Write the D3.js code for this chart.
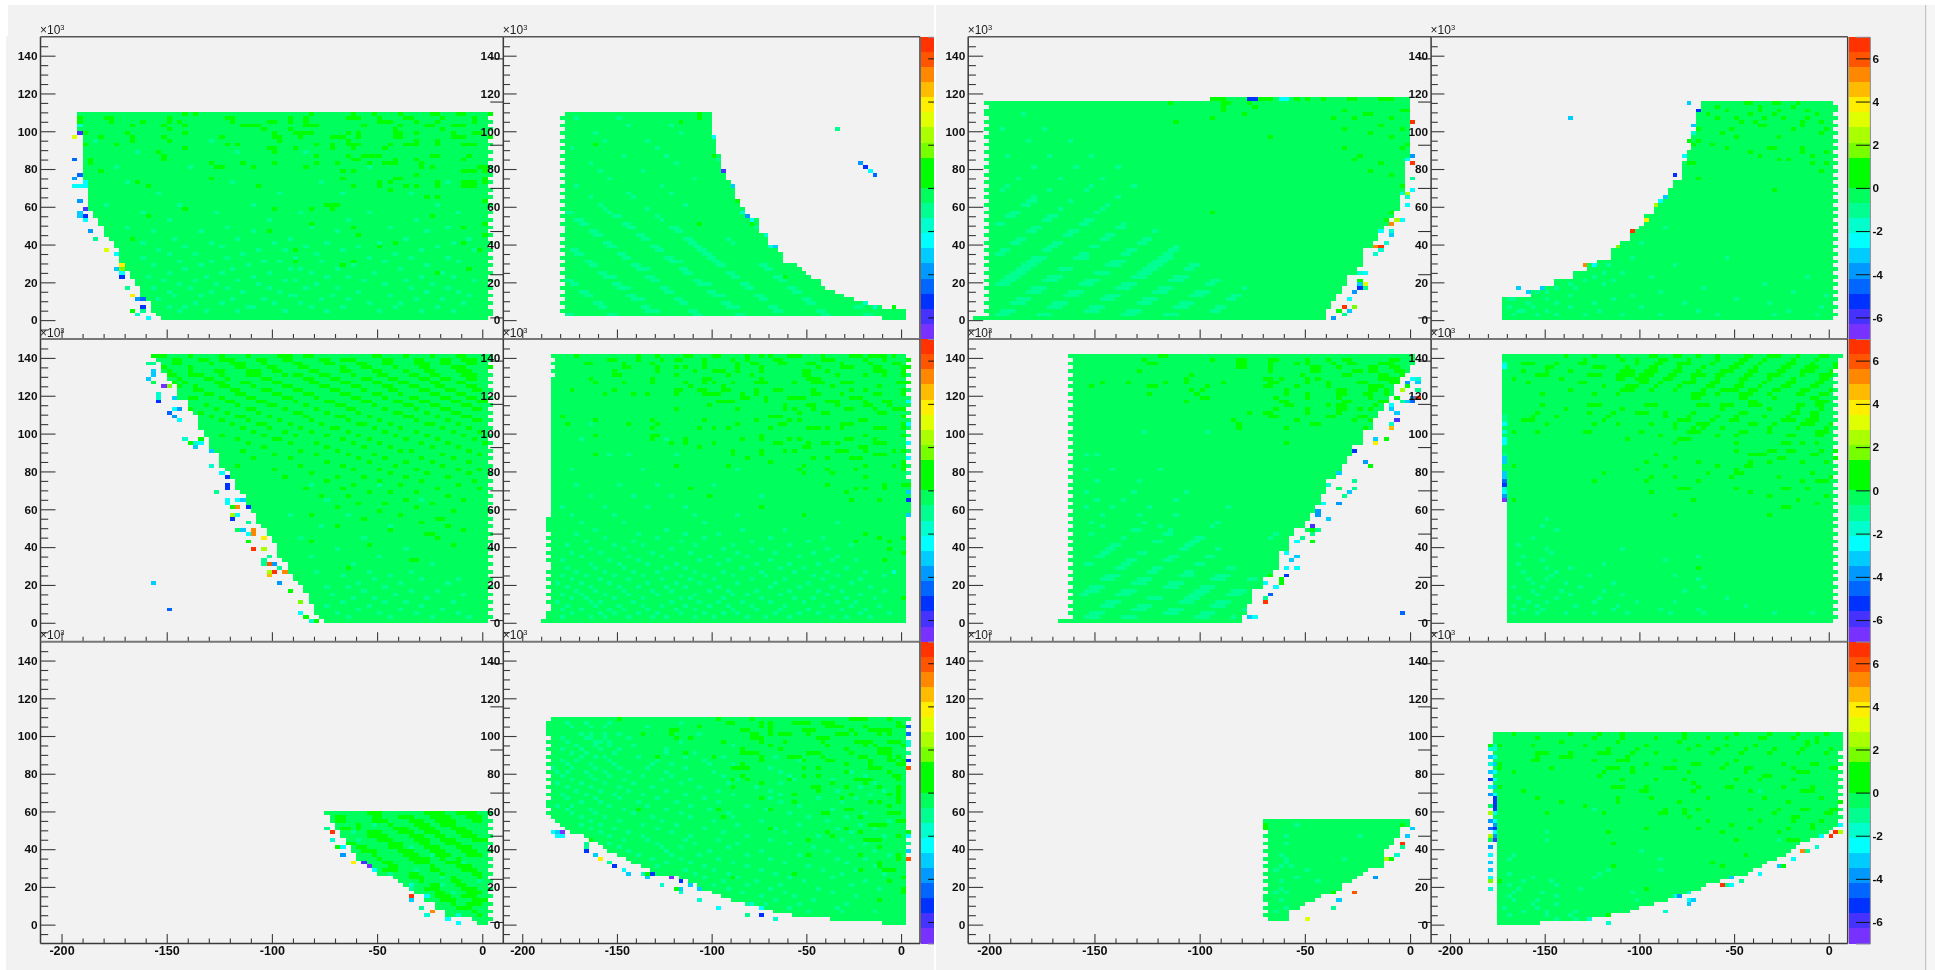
<!DOCTYPE html>
<html><head><meta charset="utf-8">
<style>html,body{margin:0;padding:0;background:#fff;overflow:hidden}svg{display:block}</style>
<script src="https://cdn.jsdelivr.net/npm/d3@7"></script></head><body><div id="c"></div>
<script>
const levelEdges=[-7,-6.3,-5.6,-4.9,-4.2,-3.5,-2.8,-2.1,-1.4,-0.7,0,0.7,1.4,2.1,2.8,3.5,4.2,4.9,5.6,6.3,7];
const palette=["#7733ff","#4433ff","#0033ff","#0066ff","#0099ff","#00ccff","#00ffff","#00ffcc","#00ff90","#00ff5c","#00ff00","#00ff00","#77ff00","#aaff00","#e0ff00","#ffee00","#ffbb00","#ff8800","#ff5500","#ff3300"];
const xMajor=[-200,-150,-100,-50,0];
const xMinor=[-190,-180,-170,-160,-140,-130,-120,-110,-90,-80,-70,-60,-40,-30,-20,-10];
const yMajor=[0,20,40,60,80,100,120,140];
const yMinor=[-5,5,10,15,25,30,35,45,50,55,65,70,75,85,90,95,105,110,115,125,130,135,145];
const zTicks=[-6,-4,-2,0,2,4,6];

/* row 1, column 1 */
const p11Left=[[1,-61],[1,-62],[3,-63],[1,-64],[3,-65],[2,-66],[2,-67],[2,-68],[4,-69],[2,-70],[1,-71],[3,-72],[2,-73],[2,-74],[6,-75],[15,-76],[5,-77]];
const p11Right=[[55,1]];
const p11Teeth=[1,2,4,6,8,10,12,14,16,18,20,22,24,26,28,30,32,34,36,38,40,42,44,46,48,50,52,54];
const p11Dark=[[54,-57,-55,-33,-25,-21,-16,-10,-9,-5,-4,1],[53,-77,-72,-71,-60,-49,-48,-37,-34,-26,-25,-24,-20,-15,-14,-8,-2],[52,-77,-71,-65,-60,-58,-48,-41,-40,-37,-34,-20,-19,-18,-13,-9,-2],[51,-67,-61,-57,-46,-45,-44,-43,-34,-33,-32,-23,-16,-11,-10,-6,-5,-4],[50,-60,-42,-37,-17,-8],[49,-76,-68,-57,-40,-36,-35,-34,-33,-26,-24,-17,-16,-13,-6,-2,-1],[48,-73,-67,-61,-50,-40,-39,-35,-29,-28,-27,-24,-17,-16,-6,-5,-4,1],[47,-67,-60,-39,-26,-13,-9],[46,-76,-70,-49,-47,-32,-29,-26,-25,-24,-18,-15,-14,-13,-9,-4,-3,-2],[45,-57,-41,-40,-36,-29,-25,-19],[44,-62,-40],[43,-61,-32,-26,-23,-22,-21,-20,-10,-9,-3],[42,-75,-61,-25,-24,-17,-13,-4],[41,-75,-52,-46,-40,-32,-28,-22,-19,-18,-17,-12],[40,-51,-50,-44,-34,-12,-10,-1,0],[39,-73,-27,-25,-4,-3,-2,0],[38,-13],[37,-52,-27,-17,-16,0],[36,-66,-20,-18,-9,-4,-3,-2,0],[35,-64,-43,-25,-20,-15,-13,-9,-4,-3,-2],[34,-18],[32,-11,-9],[31,0],[30,-30,-29,-28],[29,-57,-40,-33,-29],[28,-75],[27,-64,-10],[25,-33,0],[24,-25,-4],[23,-41],[22,-24,0],[21,-67],[20,-17,-4],[19,-20],[18,-36,-1],[15,-36,-25],[14,-27],[13,-3],[12,-9]];
const p11Light=[[2,-58,-53,-47,-38,-30,-20,-12,-6],[3,-60,-57,-45,-44,-33,-27,-17,-9],[4,-55,-50,-40,-35,-22,-16,-4],[5,-62,-48,-42,-31,-26,-13,-8],[6,-59,-54,-37,-36,-29,-18,-3],[7,-60,-52,-46,-39,-24,-11,-5],[8,-63,-56,-49,-41,-34,-28,-14,-7],[9,-58,-51,-43,-32,-19,-10],[10,-61,-55,-47,-38,-36,-23,-15,-2],[11,-64,-53,-44,-30,-26,-12,-6],[12,-60,-50,-41,-33,-21,-8],[13,-57,-48,-37,-35,-28,-16,-3],[14,-63,-54,-45,-25,-11],[15,-58,-52,-42,-39,-31,-19,-5],[16,-65,-49,-36,-22,-14,-7],[17,-60,-55,-46,-32,-17],[18,-62,-43,-38,-27,-12,-2],[19,-57,-50,-34,-24,-9],[20,-65,-52,-40,-30,-20,-6],[21,-59,-47,-37,-15,-3],[23,-63,-54,-44,-28,-11],[24,-68,-49,-33,-18,-7],[26,-60,-41,-26,-13],[28,-65,-51,-35,-22,-5],[30,-72,-58,-44,-9],[33,-62,-39,-27,-14],[36,-68,-48,-31,-7],[40,-70,-56,-22],[44,-66,-34,-47],[47,-74,-52]];
const p11Odd=[[51,-77,-1.75],[49,-77,-6],[48,-78,2.8],[42,-78,-4.5],[38,-77,-4.5],[37,-78,-4],[35,-78,-2.4],[35,-77,-2.4],[35,-76,-2.4],[36,-76,-2.2],[31,-77,-4],[29,-76,-6],[28,-77,-3.5],[27,-77,-3.5],[27,-76,-5],[26,-76,-2.4],[23,-75,-4],[21,-74,-1],[18,-72,2.8],[17,-70,-2.4],[14,-69,4],[13,-70,-3.5],[13,-69,2],[12,-69,-2.8],[11,-69,-5.5],[8,-68,-1],[6,-67,4],[5,-66,-4],[5,-65,-4.5],[3,-65,-5],[2,-67,0.7],[2,-65,-1.2],[1,-66,-1.6],[0,-64,-2.4]];

/* row 1, column 2 */
const p12Left=[[1,-4],[54,-71]];
const p12Right=[[3,1],[1,-4],[1,-8],[1,-10],[1,-12],[1,-14],[1,-16],[2,-17],[1,-19],[1,-20],[1,-21],[1,-22],[3,-25],[2,-26],[3,-28],[4,-30],[1,-32],[2,-33],[2,-34],[3,-35],[2,-36],[3,-37],[4,-38],[5,-39],[6,-40]];
const p12Teeth=[53,51,49,47,45,43,41,39,37,35,33,31,29,27,25,22,20,18,16,14,12,10,8,6,4,2];
const p12Dark=[[54,-43],[53,-43],[52,-47],[46,-65],[43,-40],[25,-43],[11,-25]];
const p12Light=[[1,[-71,-70],[-62,-61],[-44,-43],[-35,-34],[-17,-16],[-8,-7]],[2,[-54,-52],[-45,-44],[-27,-26],[-18,-17]],[3,[-64,-63],[-55,-54],[-37,-35],[-28,-27],[-10,-9]],[4,[-65,-64],[-47,-46],[-38,-37],[-20,-19]],[5,[-57,-55],[-48,-47],[-30,-29],[-21,-20]],[6,[-67,-66],[-58,-57],[-40,-38],[-31,-30]],[7,[-68,-67],[-50,-49],[-41,-40],[-23,-22]],[8,[-60,-58],[-51,-50],[-33,-32],[-24,-23]],[9,[-70,-69],[-61,-60],[-43,-41],[-34,-33]],[10,[-71,-70],[-53,-52],[-44,-43],[-26,-25]],[11,[-63,-61],[-54,-53],[-36,-35],[-27,-26]],[12,[-64,-63],[-46,-45],[-37,-36]],[13,[-56,-54],[-47,-46],[-29,-28]],[14,[-66,-65],[-57,-56],[-39,-38],[-30,-29]],[15,[-67,-66],[-49,-47],[-40,-39]],[16,[-59,-58],[-50,-49],[-41,-40]],[17,[-69,-68],[-60,-59],[-42,-41]],[18,[-70,-69],[-52,-51],[-43,-42]],[19,[-62,-61],[-53,-52],[-44,-43]],[20,[-63,-62],[-45,-44],-36],[21,[-55,-54],[-46,-45],-37],[22,[-65,-64],[-56,-55]],[23,[-66,-65],[-48,-47]],[24,[-58,-57],[-49,-48]],[25,[-68,-67],[-59,-58]],[26,[-69,-68],-51],[27,[-61,-60],-52],[28,[-71,-70],-62],[29,-63,-54],[30,-64,-46],[32,-66,-57],[33,-58,-49],[35,-69,-51],[37,-62,-44],[39,-64,-55],[41,-66,-48],[43,-59,-50],[45,-70,-52],[47,-63,-54],[49,-65,-47],[51,-58,-49],[53,-69,-60]];
const p12Odd=[[50,-14,-1],[41,-9,-4],[40,-8,-5],[39,-7,-2.4],[38,-6,-4.5],[48,-40,-2.2],[42,-39,-1.4],[39,-38,-6],[35,-36,-3],[31,-35,0.7],[28,-34,-1.5],[27,-33,-4],[26,-32,-2.4],[25,-32,0.7],[24,-31,-1.4],[22,-29,-1.5],[19,-27,-3],[19,-28,-1.5],[4,-8,-1.6],[3,-6,-1.6],[3,-2,0.5]];

/* row 1, column 3 */
const p13Left=[[1,-83],[57,-80],[1,-38]];
const p13Right=[[3,-16],[2,-15],[2,-14],[2,-13],[3,-12],[2,-10],[5,-9],[2,-7],[2,-6],[2,-5],[2,-4],[2,-3],[4,-2],[10,-1],[16,0]];
const p13Teeth=[2,4,6,8,10,12,14,16,18,20,22,24,26,28,30,32,34,36,38,40,42,44,46,48,50,52,54,55,57];
const p13Dark=[[58,-38,-37,-36,-29,-28,-27,-22,-20,-17,-12,-11,-6,-5,-4],[57,-46,-36,-35,-31],[56,-36,-30],[55,-36,-13,-2,-1],[54,-32,-9,-8],[53,-38,-15,-11,-4],[52,-45],[51,-6],[50,-13,-2],[49,-8],[48,-27,-4],[46,-1],[45,-13,-2],[43,-10],[42,-11],[41,-6],[39,-8],[38,-4],[35,-2],[28,-38]];
const p13Light=[[1,[-79,-77],[-71,-69],[-55,-53],[-47,-45]],[2,[-78,-76],[-62,-60],[-54,-52],[-38,-37]],[3,[-69,-67],[-61,-59],[-45,-43],[-37,-36]],[4,[-76,-74],[-68,-66],[-52,-50],[-44,-42]],[5,[-75,-73],[-59,-57],[-51,-49],[-35,-34]],[6,[-66,-64],[-58,-56],[-42,-40],[-34,-33]],[7,[-73,-71],[-65,-63],[-49,-47],[-41,-39]],[8,[-72,-70],[-56,-54],[-48,-46],-32],[9,[-79,-77],[-63,-61],[-55,-53],[-39,-38]],[10,[-78,-76],[-70,-68],[-62,-60],[-46,-44],[-38,-37]],[11,[-77,-75],[-69,-67],[-53,-51],[-45,-43]],[12,[-76,-74],[-60,-58],[-52,-50]],[13,[-75,-73],[-67,-65],[-51,-49],[-43,-42]],[14,[-74,-72],[-58,-56],[-50,-48],[-42,-41]],[15,[-73,-71],[-57,-55],[-49,-47]],[16,[-72,-70],[-64,-62],[-48,-46]],[17,[-79,-78],[-63,-62],[-55,-54],[-47,-46]],[18,[-78,-77],[-70,-69],[-54,-53],[-46,-45]],[19,[-69,-68],[-61,-60],-45],[20,[-76,-75],[-68,-67],[-52,-51]],[21,[-75,-74],[-59,-58],[-51,-50]],[22,[-66,-65],[-58,-57]],[23,[-73,-72],[-65,-64],-49],[24,[-72,-71],[-56,-55]],[25,[-79,-78],[-63,-62],-55],[26,[-70,-69],[-62,-61]],[27,[-77,-76],[-69,-68]],[28,[-76,-75],-60],[29,-67,-59],[30,[-74,-73],-58],[31,[-73,-72],-65],[32,-72,-56],[34,-78,-69,-62],[35,-77,-61,-53],[37,-75,-67,-59],[40,-72,-64,-56],[43,-77,-69,-61],[47,-73,-65],[50,-78,-70],[54,-74]];
const p13Odd=[[52,0,6.5],[43,0,-4],[42,-1,-2.4],[41,0,6.5],[37,0,-1.2],[34,0,-2.4],[33,-1,2.7],[33,-2,-1.6],[32,-1,-1.6],[30,-1,-2.2],[28,-4,0.7],[26,-5,0.7],[26,-3,2.5],[26,-2,-2.4],[25,-4,5],[23,-6,-2.4],[23,-4,-1.7],[22,-4,-3],[20,-5,-1.5],[19,-7,5],[19,-6,6.5],[18,-6,-2],[17,-7,-1.7],[12,-10,-1.5],[12,-9,-2.5],[10,-10,0.7],[9,-10,-3.4],[8,-10,-5],[9,-9,3],[8,-9,-1],[7,-11,-4],[5,-12,-2.4],[3,-13,6.5],[3,-11,2],[2,-14,0.7],[2,-12,-3.5],[1,-13,-1.4],[0,-15,-4],[58,-31,-5],[58,-30,-5],[58,-25,-2.4],[58,-24,-2.4]];

/* row 1, column 4 */
const p14Left=[[6,-69],[2,-63],[1,-60],[2,-58],[2,-54],[2,-51],[1,-49],[3,-46],[2,-44],[3,-42],[1,-40],[3,-39],[3,-37],[1,-36],[3,-34],[2,-33],[5,-31],[3,-30],[5,-29],[5,-28],[3,-27]];
const p14Right=[[58,1]];
const p14Teeth=[1,3,5,7,9,11,13,15,17,19,21,23,25,27,29,31,33,35,37,39,41,43,45,47,49,51,53,55,56];
const p14Dark=[[57,-18,-17,-12,-11,-7],[56,-24,-15,-8],[55,-22,-15,-11,-5],[54,-26,-17,-12,-3],[53,-24,-20,-14,-10,-5],[52,-19,-16,-6,-2],[51,-15,-14,-6],[50,-28,-21,-8,-1],[49,-23,-2],[48,-20,-11],[47,-28],[46,-29,-25],[45,-22,-13,-12,-6],[44,-17,-6,-1],[43,-15,-4],[42,-11,-9],[41,-30,-29,-4,-1],[39,-2],[37,-28],[34,-12]];
const p14Light=[[1,-67,-62,-58,-52,-44,-36,-24,-12,-3],[2,-66,-65,-60,-49,-28,-9],[3,-68,-63,-55,-40,-2],[4,-64,-58,-50,-31,-13],[5,-68,-67,-60,-46,-20],[6,-65,-55,-42,-1],[7,-62,-60,-36,-8],[8,-58,-54,-27],[9,-55,-48,-14],[10,-52,-46],[11,-50,-38,-5],[12,-48,-44],[14,-47,-33],[16,-42,-22],[20,-40],[24,-35]];
const p14Odd=[[57,-30,-3.5],[55,-28,-5],[51,-29,-3],[49,-29,-1.6],[47,-30,0.7],[43,-31,-2.5],[38,-33,-5.5],[30,-37,2.2],[32,-35,-3],[31,-36,-2.4],[26,-39,4],[23,-42,6.5],[19,-45,2],[14,-50,-2.4],[14,-52,5],[53,-55,-3.5],[8,-66,-3.2],[7,-64,-3],[8,-61,-3.5]];

/* row 2, column 1 */
const p21Left=[[1,-30],[1,-31],[3,-32],[3,-33],[2,-34],[1,-35],[2,-36],[3,-37],[1,-38],[4,-39],[2,-40],[2,-41],[1,-42],[3,-43],[2,-44],[3,-45],[1,-46],[3,-47],[2,-48],[1,-49],[4,-50],[1,-51],[3,-52],[2,-53],[4,-54],[1,-55],[3,-56],[4,-58],[1,-59],[2,-60],[3,-61],[1,-62],[1,-63]];
const p21Right=[[71,1]];
const p21Teeth=[1,3,5,7,9,11,13,15,17,19,21,23,25,27,29,31,33,35,37,39,41,43,45,47,49,51,53,55,57,59,61,63,65,67,69,70];
const p21Dark=[[70,-63,-62,-61,-56,-50,-45,-39,-38,-37,-34,-33,-21,-20,-15,-10,-5,-4],[69,-59,-58,-54,-53,-50,-49,-48,-43,-42,-38,-37,-31,-30,-27,-26,-25,-19,-18,-13,-12,-8,-7,-4,-3,-2],[68,-59,-58,-52,-48,-47,-46,-42,-36,-35,-30,-29,-24,-23,-19,-18,-13,-12,-11,-8,-7,-3,-2],[67,-61,-56,-47,-46,-41,-40,-35,-34,-27,-23,-22,-17,-12,-11,-6,-5,-4,1],[66,-60,-56,-51,-50,-45,-44,-43,-40,-39,-33,-32,-27,-26,-21,-20,-15,-11,-10,-5,-4,-3],[65,-60,-59,-56,-55,-54,-50,-45,-44,-43,-38,-36,-35,-31,-30,-25,-20,-19,-14,-13,-10,-9,-4,-3,-2],[64,-58,-53,-52,-49,-42,-41,-34,-33,-29,-28,-23,-22,-18,-17,-12,-11,-8,-7,-3,-2],[63,-59,-57,-51,-50,-46,-45,-40,-39,-33,-32,-27,-26,-21,-20,-16,-15,-10,-9,-5,-4],[62,-58,-55,-50,-49,-44,-38,-37,-31,-30,-25,-24,-19,-18,-14,-13,-9,-8,-3,-2],[61,-55,-54,-48,-47,-42,-41,-36,-35,-29,-28,-23,-18,-17,-12,-11,-7,-6,-2,-1],[60,-53,-52,-47,-46,-40,-39,-34,-33,-27,-26,-21,-20,-16,-10,-9,-5,-4,1],[59,-56,-55,-50,-45,-44,-38,-37,-32,-25,-24,-19,-14,-13,-8,-7,-3,-2],[58,-49,-48,-43,-42,-36,-30,-29,-23,-22,-17,-16,-12,-11,-6,-5,-1,0],[57,-53,-47,-41,-40,-34,-28,-27,-21,-15,-14,-10,-9,-4,-3],[56,-56,-51,-45,-44,-38,-32,-26,-25,-19,-13,-8,-7,-2,-1,1],[55,-54,-49,-43,-36,-35,-30,-24,-17,-16,-11,-6,-5],[54,-52,-47,-46,-41,-34,-28,-27,-22,-15,-14,-9,-4,-3],[53,-50,-45,-39,-33,-26,-20,-13,-7,-2,-1],[52,-48,-43,-42,-37,-31,-24,-23,-18,-11,-10,-5,1],[51,-46,-41,-35,-29,-28,-21,-16,-8,-3],[50,-44,-38,-33,-26,-19,-13,-6,-1],[49,-50,-42,-36,-30,-24,-17,-11,-4],[48,-47,-40,-39,-27,-22,-15,-9,-2],[47,-45,-37,-32,-25,-20,-12,-7,0],[46,-42,-30,-23,-18,-10,-5],[45,-46,-35,-28,-16,-14,-3],[44,-40,-32,-26,-21,-8,-1],[43,-44,-37,-24,-19,-12,-6],[42,-30,-22,-15,-10,-3],[41,-47,-35,-27,-17,-8],[40,-40,-25,-20,-13,-5,-1],[39,-33,-18,-11,-3],[38,-38,-28,-23,-15,-7],[37,-30,-20,-12,-2],[36,-25,-16,-5],[35,-34,-27,-9,-1],[34,-22,-18,-13],[33,-31,-26,-7],[32,-15,-4],[31,-24,-19,-10],[30,-28,-13],[29,-20,-6],[28,-33,-16],[27,-23,-9,-8],[26,-12],[25,-28,-7],[24,-18,-4],[23,-11,-10],[22,-9],[21,-33],[20,-22,-6],[16,-14,-13],[14,-26]];
const p21Light=[[1,-26,-18,-10,-3],[2,-28,-20,-13,-5],[3,-24,-16,-8],[4,-30,-22,-12],[5,-27,-19,-15,-6],[6,-25,-21,-11],[7,-29,-17,-4],[8,-23,-14,-9],[9,-30,-26,-19],[10,-24,-16,-7],[11,-21,-12,-5],[12,-27,-18],[13,-32,-22,-14],[15,-25,-10],[17,-33,-20],[19,-28,-15],[22,-35,-23],[25,-31,-18],[28,-37,-26],[32,-30,-12],[36,-33,-20]];
const p21Odd=[[68,-64,-1],[68,-63,-1],[66,-63,-3.5],[65,-63,-3.5],[64,-64,-3],[63,-63,-0.3],[62,-61,-6.4],[62,-60,2],[60,-62,-1.6],[59,-62,-1.6],[58,-62,-5],[59,-59,-3],[56,-59,-2.4],[56,-58,-4],[55,-60,-4.5],[54,-59,-4],[53,-58,-2.4],[48,-57,-1.6],[47,-56,0.7],[47,-55,-1.5],[47,-54,-2.4],[48,-54,0.7],[46,-55,-3.5],[45,-52,-3],[41,-52,-1.6],[39,-50,-2.4],[38,-49,-5],[36,-49,-5.5],[35,-49,-5.5],[34,-51,-1.2],[32,-49,-2.4],[31,-49,-2.4],[32,-47,-2.5],[32,-46,-3.5],[30,-48,0.7],[30,-47,4.9],[30,-45,-5],[28,-48,2.3],[28,-47,-2.4],[27,-48,-5],[26,-45,-1.2],[24,-47,-0.3],[24,-46,-3.5],[24,-44,5],[23,-44,5],[23,-45,-2.4],[22,-42,3.5],[21,-45,0.7],[19,-44,6.5],[19,-42,2.5],[17,-41,-1],[16,-42,-1],[15,-42,-1],[15,-41,6],[15,-40,-4],[14,-39,-1],[13,-41,2.2],[13,-40,6.5],[13,-38,5],[12,-41,4.8],[10,-39,-4],[10,-63,-3],[8,-37,0.7],[5,-35,2],[2,-35,-2.4],[1,-34,0.7],[0,-33,-1.6],[0,-32,0.7],[3,-60,-4.7]];

/* row 2, column 2 */
const p22Left=[[1,-76],[64,-74],[1,-73],[1,-74],[1,-73],[1,-74],[1,-73],[1,-74]];
const p22Right=[[71,1]];
const p22LeftTeeth=[1,2,5,7,9,11,13,16,18,20,22,24,25,26,27];
const p22Teeth=[69,67,65,63,61,59,57,55,53,51,49,47,45,43,41,39,37,35,33,31,29];
const p22Dark=[[70,-69,-56,-52,-46,-45,-40,-39,-33,-30,-28,-24,-23,-22,-17,-11,-10,-9,-7,-6,-5,-4,-2],[69,-62,-61,-56,-51,-48,-47,-42,-36,-33,-27,-26,-17,-16,-15,-8,-4,1],[68,-67,-66,-59,-53,-42,-35,-32,-31,-26,-25,-20,-19,-13,-7,-2,-1],[67,-59,-58,-52,-48,-46,-42,-35,-30,-18,-13,-12,-11,-6,-5,0,1],[66,-61,-52,-44,-40,-39,-38,-35,-30,-21,-20,-16,-6,-5,-4,0],[65,-61,-60,-48,-37,-32,-21,-20,-14,-8,-4,0],[64,-66,-53,-42,-41,-30,-20,-19,-18],[63,-65,-59,-53,-46,-42,-40,-36,-31,-30,-29,-23,-19,-18,-17,-13,-12,-11,-1,0,1],[62,-45,-38,-15,-5,1],[61,-70,-61,-48,-47,-43,-42,-38,-37,-31,-27,-26,-19,-11,-8,0],[60,-63,-57,-54,-48,-42,-41,-40,-39,-34,-31,-19,-18,-13,-6,-5,0],[59,-34,-33,-29,-24,-23,-22,-21,-11,-10,-9],[58,-39,-38,-37,-36,-29,-16,-15,-14,-8,-4,-3],[57,-41,-25,-20,-19,-14,-8,-7,-3],[56,-48,-35,-25,-23,-19,-12,-11,-6,-2,-1,0],[55,-22,-17,-16,-5,-4],[54,-72,-28,-27,-26,0],[53,-65,-53,-42,-31,-24,-22,-9,-8],[52,-71,-58,-52,-35,-26,-25,-13,-12,-11,0],[51,-53,-43,-40,-37,-28,-20,-19,-18,-16,-13,-6,-5,-4,0],[49,-65,-53,-52,-30,-8,0],[48,-53,-46,-34,-30,-24,-22,-12,-11,-6],[47,-49,-46,-40,-27,-26,-20,-17,-16,-14,-6,-5,-4],[46,-43,-21,-20,-9,-8],[45,-36,-30,-25,-23,-14,-13,-12,-8,-2,0],[44,-65,-36,-30,-6,-5,-4],[43,-33,-19,-16,-11,-10,-9],[42,-28,0],[41,-48,-37,-21,-8,-2,0],[40,-22,-16,-10,0],[39,-21,-15],[38,-8],[36,-16,-4,0],[35,-45,-10,-8,-4],[34,-12],[33,-41],[32,-11,-5],[30,-30],[28,-21],[23,-8],[22,-5,0],[21,-10,-3],[19,-3],[18,0],[16,-4],[6,0]];
const p22Light=[[1,-72,-66,-63,-58,-53,-50,-44,-40,-33,-29,-24,-15,-12,-7],[2,-70,-64,-61,-56,-52,-47,-42,-38,-35,-27,-22,-18,-9,-3],[3,-72,-68,-62,-59,-54,-48,-44,-36,-31,-26,-20,-13,-8],[4,-71,-65,-60,-55,-51,-46,-41,-37,-32,-25,-17,-11,-5],[5,-73,-66,-64,-57,-49,-43,-39,-34,-28,-21,-14,-10],[6,-70,-67,-61,-55,-47,-45,-38,-30,-23,-19,-12,-6],[7,-72,-68,-63,-58,-52,-44,-36,-33,-26,-16,-9],[8,-69,-65,-59,-53,-49,-41,-37,-31,-24,-18,-13,-4],[9,-71,-66,-60,-56,-50,-46,-39,-28,-22,-15,-7],[10,-73,-68,-62,-54,-48,-43,-35,-27,-20,-11],[11,-70,-64,-58,-51,-45,-40,-32,-25,-17,-9],[12,-72,-67,-61,-55,-47,-42,-36,-29,-19,-14,-4],[13,-69,-63,-57,-52,-44,-38,-30,-23,-16,-8],[14,-71,-65,-59,-50,-46,-34,-26,-21,-12],[15,-66,-60,-54,-48,-39,-31,-24,-18],[16,-72,-62,-56,-43,-37,-28,-15,-10],[17,-68,-58,-51,-41,-33,-22,-14],[18,-70,-64,-53,-45,-35,-27,-19],[19,-66,-59,-49,-38,-30,-16],[20,-71,-61,-55,-44,-36,-24,-11],[21,-67,-57,-47,-32,-20],[22,-63,-52,-42,-28,-17],[23,-69,-56,-46,-39,-8],[24,-65,-50,-34,-25],[26,-68,-59,-42,-14],[28,-70,-61,-44,-35],[30,-72,-63,-54,-46],[33,-66,-57,-49,-30],[36,-69,-60,-52,-40],[40,-70,-55,-35],[44,-62,-58,-48],[48,-68,-50],[52,-66]];
const p22Odd=[[58,1,-2.4],[52,1,-2.4],[47,1,-2.4],[43,1,-2.4],[39,1,-1.4],[36,1,0.7],[34,1,-3.4],[32,1,-5],[30,1,-0.3],[28,1,-3],[13,-2,-1.6]];

/* row 2, column 3 */
const p23Left=[[1,-67],[70,-64]];
const p23Right=[[2,-32],[3,-31],[4,-30],[3,-28],[2,-26],[5,-25],[4,-23],[2,-22],[2,-20],[2,-19],[2,-18],[3,-17],[4,-16],[2,-14],[2,-13],[2,-12],[3,-11],[4,-9],[3,-7],[2,-6],[2,-5],[2,-4],[3,-3],[2,-2],[1,-1],[2,0],[3,1]];
const p23LeftTeeth=[2,4,6,8,10,12,14,16,18,20,22,24,26,28,30,32,34,36,38,40,42,44,46,48,50,52,54,56,58,60,62,64,66,68,70];
const p23Dark=[[70,-48,-47],[69,-51,-38,-33,-32,-27,-26,-20,-16,-13,-12,-4,-3],[68,-50,-49,-33,-32,-27,-22,-20,-15,-12,-11,-6,-5,-4],[67,-33,-32,-27,-19,-18,-14,-8,-7,-4,-3],[66,-52,-27,-19,-18,-11,-10,-8,-7,-3,-2],[65,-42,-21,-13,-12,-6,-5,-2,-1,0],[64,-43,-28,-27,-25,-20,-18,-6,-5,-4,-3],[63,-59,-54,-47,-43,-36,-27,-26,-20,-16,-10,-9,-4,-3],[62,-61,-50,-49,-39,-28,-27,-22,-16,-8,-7,-6],[61,-42,-40,-24,-14,-13,-8,-7,-5],[60,-50,-41,-24,-20,-14,-13,-9,-8,-5],[59,-40,-39,-26,-20,-14,-8],[58,-43,-25,-24,-13,-12,-6,-5],[57,-24,-23,-16,-14,-13,-7,-5],[56,-26,-20,-14,-13,-10,-8],[55,-31,-28,-27,-20,-14],[54,-27,-26,-16,-15,-10,-9],[53,-34,-22,-11,-8],[52,-33,-19,-18],[51,-33,-24,-9],[50,-9],[48,-9],[47,-24,-9]];
const p23Light=[[1,[-62,-60],[-55,-53],[-41,-39],-34],[2,[-61,-59],[-47,-45],[-40,-38]],[3,[-53,-51],[-46,-44],-32],[4,[-59,-57],[-52,-50],[-38,-36]],[5,[-58,-56],[-44,-42],[-37,-35]],[6,[-50,-48],[-43,-41]],[7,[-63,-62],[-56,-54],[-42,-40],[-35,-33]],[8,[-62,-60],[-55,-53],[-41,-39],[-34,-32]],[9,[-61,-59],[-47,-45],[-40,-38]],[10,[-53,-51],[-46,-44]],[11,[-59,-57],[-52,-50],[-38,-36],[-31,-30]],[12,[-58,-56],[-44,-42],[-37,-35]],[13,[-50,-49],[-43,-42]],[14,[-56,-55],[-49,-48],[-35,-34]],[15,[-62,-61],[-55,-54],[-41,-40]],[16,[-54,-53],[-47,-46]],[17,[-60,-59],[-46,-45],[-39,-38]],[18,[-59,-58],[-52,-51]],[19,[-58,-57],[-44,-43],-37],[20,[-57,-56],[-43,-42]],[21,[-49,-48],[-42,-41]],[22,-55,[-41,-40],-27],[23,-61,[-47,-46],-26],[24,[-53,-52],-46],[25,-59,-48,-38],[26,-51,-61,-37],[28,-59,-52,-45],[30,-62,-57,-50,-35],[32,-60,-55,-45],[34,-62,-53,-43],[37,-60,-52],[40,-62,-57,-48],[44,-62,-60],[50,-51,-39]];
const p23Odd=[[63,-1,-4],[64,0,-2.4],[64,1,-1.6],[63,1,-3.5],[62,-1,0.7],[61,-2,2.2],[61,1,-1],[59,-3,0.7],[59,1,6.5],[59,0,-4],[58,0,-4.7],[58,-1,-3.5],[58,-2,-1],[57,-4,-2.4],[56,-4,-3.5],[55,-3,-3],[53,-3,-6],[52,-4,-1.6],[51,-4,4.5],[48,-7,-3],[47,-7,3.9],[48,-5,0.7],[45,-11,-5],[42,-9,-4],[41,-8,0.7],[39,-14,-3],[37,-11,-1],[36,-16,-1.7],[35,-14,-0.4],[35,-11,-1],[34,-12,-3],[33,-13,-1],[31,-14,-4],[31,-17,-2.4],[29,-18,-4],[28,-18,-4],[27,-16,-3],[25,-19,-6],[24,-20,-0.4],[24,-19,0.7],[24,-18,-1],[23,-19,-1],[22,-21,-1],[21,-22,-2.4],[21,-19,0.7],[18,-24,-2.4],[17,-22,-3.5],[16,-23,-3.3],[14,-24,-2.4],[14,-22,-2.7],[12,-24,-5.5],[12,-27,0.7],[10,-28,-2.4],[9,-26,-2.2],[11,-25,0.7],[10,-25,0.7],[7,-27,-4.7],[6,-28,-1],[5,-28,6.5],[1,-31,-3],[1,-30,-2.7],[2,-2,-4.5]];

/* row 2, column 4 */
const p24Left=[[32,-68],[39,-69]];
const p24Right=[[70,1],[1,3]];
const p24Teeth=[1,3,5,7,9,11,13,15,17,19,21,23,25,27,29,31,33,35,37,39,41,43,45,47,49,51,53,55,57,59,61,63,65,67,68,69];
const p24Dark=[[70,-56,-50,-45,-38,-37,-33,-32,-28,-24,-18,-17,-13,-12,-11,-7,-2,-1],[69,-52,-44,-41,-36,-35,-30,-24,-19,-18,-14,-8,-3],[68,-65,-64,-63,-58,-53,-52,-41,-37,-36,-32,-31,-30,-25,-20,-19,-15,-9,-8,-4,1],[67,-60,-59,-50,-49,-48,-43,-38,-37,-32,-27,-21,-20,-16,-10,-9,-5,-4,-3,1],[66,-65,-60,-55,-44,-43,-42,-39,-38,-37,-33,-32,-28,-23,-22,-21,-17,-16,-11,-10,-6,-5,-4,0],[65,-62,-61,-60,-51,-50,-49,-45,-44,-43,-42,-40,-39,-38,-34,-33,-29,-28,-27,-24,-23,-18,-17,-13,-12,-11,-6,-2,-1,0],[64,-67,-57,-45,-44,-41,-40,-39,-35,-34,-29,-24,-19,-18,-13,-8,-2,-1],[63,-64,-53,-52,-40,-39,-36,-31,-30,-29,-25,-24,-19,-14,-9,-8,-3,-2],[62,-48,-43,-42,-41,-37,-32,-26,-25,-20,-19,-15,-10,-9,-4,-3,1],[61,-55,-44,-43,-42,-38,-33,-27,-23,-22,-21,-20,-17,-16,-12,-11,-6,-5,0],[60,-61,-50,-45,-29,-28,-27,-24,-19,-18,-17,-13,-7,-6,-2,-1],[59,-29,-28,-19,-18,-12,-4,-3],[58,-17,-16,-3,-2,-1],[57,-61,-51,-50,-49,-39,-38,-37,-28,-27,-26,-23,-22,-21,-17,-16,-15,-7,-6,-3,-2],[56,-56,-44,-23,-13,-7,-2],[55,-62,-51,-46,-41,-40,-39,-35,-29,-19,-18,-8,-7,-4,-3],[54,-63,-58,-47,-35,-30,-24,-20,-14,-9,-4,-3],[53,-65,-64,-63,-48,-32,-31,-30,-25,-21,-20,-10,-9,-8,-5,-4,-3],[52,-60,-50,-45,-38,-33,-28,-27,-26,-17,-16,-12,-6,-5,-4,0],[51,-33,-29,-27,-23,-13,-7,-1],[50,-67,-62,-52,-51,-40,-30,-29,-28,-19,-18,-13,-3,-2,-1],[49,-36,-24,-20,-9,-8,-3,-2],[48,-43,-32,-31,-30,1],[47,-33,-20,-10,-9,-6,-3],[45,-20,-13,-12,-9,-8,-2,1],[44,-37,-17,-16,-15,-14,-4,-3],[43,-33,-11,-10,1],[42,-39,-28,-17,-13,-6,-1],[41,-67,-35,-24,-18,-17],[40,-41,-20],[39,-48,-26,-20,-19,-4],[38,-38,-33,-21,-11,0],[37,-50,-39,-28,-6,-3,-2,-1],[35,-32,-31,-30,-20,-10,-9,-5],[34,-38,-17],[33,-13,-1],[32,-67,-29,-7],[31,-3],[30,-10,-9],[28,-33,-13],[14,-28]];
const p24Light=[[2,-67,-62,-56,-50,-43,-34,-27,-12,-4],[3,-65,-61,-46,-36,-28],[4,-67,-62,-54,-45,-18],[5,-64,-60,-50,-41,-33],[6,-66,-58,-49,-22],[7,-62,-55,-44],[8,-63,-57,-48,-31],[9,-67,-61,-53,-27],[10,-63,-56,-46],[11,-64,-60,-28],[12,-59,-51,-33],[13,-65,-58],[14,-60,-55],[15,-66,-48],[16,-61,-35],[17,-65,-28],[18,-59],[19,-60,-44],[20,-66],[22,-63],[24,-58],[25,-61],[27,-60]];
const p24Odd=[[67,-69,-2.4],[68,-69,-1.5],[52,-69,-2.4],[50,-69,-1.5],[47,-69,-2.4],[48,-69,-2.4],[44,-69,-1.4],[43,-69,-3],[42,-69,-3],[39,-69,-3],[38,-69,-3],[37,-69,-4.7],[36,-69,-5],[35,-69,-1.7],[34,-69,-2.4],[33,-69,-3.7],[32,-69,-6.4],[54,-69,-1.2],[53,-69,-1.2]];

/* row 3, column 1 */
const p31Left=[[1,-1],[1,-2],[2,-7],[2,-9],[2,-11],[1,-13],[1,-14],[1,-15],[1,-16],[1,-17],[2,-20],[2,-22],[2,-24],[2,-25],[2,-26],[2,-27],[2,-28],[2,-29],[1,-30]];
const p31Right=[[30,1]];
const p31Teeth=[1,3,5,7,9,11,13,15,17,19,21,23,25,27,29];
const p31Dark=[[29,-22,-21,-20,-11,-10,-9,-8,-5,-4,-3,-2],[28,-28,-27,-21,-20,-16,-15,-14,-10,-9,-8,-7,-3,-2,-1],[27,-28,-27,-21,-20,-19,-14,-13,-12,-9,-8,-7,-6,-2,-1],[26,-24,-18,-13,-12,-11,-8,-7,-6,1],[25,-27,-26,-24,-17,-16,-15,-12,-11,-10,-6,-5,-4],[24,-22,-21,-20,-16,-15,-14,-11,-10,-9,-5,-4,-3],[23,-22,-21,-20,-19,-14,-13,-12,-9,-8,-4,-3,-2],[22,-20,-19,-18,-13,-12,-11,-8,-7,-6,-2,-1,0],[21,-26,-25,-18,-17,-16,-12,-11,-7,-6,-5],[20,-24,-23,-18,-17,-16,-11,-10,-9,-5,-4,-3],[19,-23,-22,-21,-16,-15,-14,-10,-9,-8,-4,-3,-2],[18,-21,-15,-14,-13,-9,-8,-7,-3,-2,-1],[17,-20,-14,-13,-12,-11,-8,-5],[16,-19,-18,-13,-12,-11,-7,-6,-5],[15,-18,-17,-10,-5,-4,-3],[14,-19,-18,-17,-10,-9,-4,-3,-2],[13,-14,-13,-8,-2,-1],[12,-14,-13,-12,-6,-1],[11,-12,-6,-5],[10,-10,-9,-5,-4],[9,-11,-10,-9,-4,-3,-2],[8,-9,-8,-3,-2,-1],[7,-9,-8,-7,-4,-3,-2],[6,-8,-7,-6,-2,-1,0,1],[5,-6,-3,-2,-1],[4,-5,-4,-3],[3,-2],[2,-1]];
const p31Light=[[12,-8],[10,-8],[8,-6],[11,-1],[16,-4],[18,-10],[9,-14],[14,-13],[20,-14],[22,-24],[24,-25],[26,-21],[13,-18]];
const p31Odd=[[25,-30,-0.9],[24,-29,6.5],[22,-29,-1.5],[20,-28,0.7],[20,-27,-2.4],[18,-27,-3.6],[16,-25,3.5],[16,-23,-5.8],[15,-22,-6.5],[14,-21,-2.4],[7,-14,6.5],[6,-14,-3],[7,-11,-2.4],[4,-12,-1],[3,-10,5],[2,-11,-1.6],[1,-7,-2.4],[0,-5,-2.4],[10,-14,-1.5],[2,-5,-1.6]];

/* row 3, column 2 */
const p32Left=[[1,-4],[1,-15],[1,-23],[1,-27],[1,-29],[1,-33],[1,-36],[1,-38],[1,-40],[1,-42],[1,-43],[1,-45],[1,-47],[2,-53],[1,-55],[1,-57],[1,-58],[1,-60],[1,-62],[1,-63],[1,-64],[1,-66],[1,-67],[1,-70],[1,-71],[1,-72],[1,-73],[27,-74]];
const p32Right=[[54,1],[1,2]];
const p32LeftTeeth=[29,31,32,34,36,38,40,42,44,46,48,50,51,52,53];
const p32Dark=[[54,-60,-39,-32,-11,-10,-9,-8,-3],[53,-37,-36,-30,-28,-23,-22,-21,-20,-17,-16,-15,-1],[52,-43,-30,-28,-16,-15,-14,-13,-8,-1,0],[51,-49,-48,-34,-33,-28,-21,-20,-19,-11,-7,-6,-5,-4,-3],[50,-55,-49,-32,-31,-28,-26,-25,-24,-20,-14,-13,-12,-10,-5,-3],[49,-48,-45,-32,-31,-30,-18,-17,-16],[48,-38,-30,-25,-17,-10,-9,-8,-7,-3,-2,-1],[47,-28,-16,-8,-6,0],[46,-34,-26,-12,-5,-4,-3],[45,-46,-34,-33,-32,-31,-20,-19,-18,-11,-5,-4,-3],[44,-52,-40,-30,-24,-23,-22,-17,-9,-8,-3,-1],[43,-30,-21,-16,-15,-7,-3,-2,0],[42,-34,-12,-7,-1,0],[41,-36,-35,-34,-33,-21,-18,-7,-6,-5],[40,-12,-3],[39,-34,-21,-18,-2,-1],[38,-36,-33,-24,-10,-9,-8,-7,-1],[37,-30,-15,-8],[36,-36,-19,-18,-12,-5,-1],[35,-18,-1],[34,-23,-11,-3,-1],[33,-30,-13,-1],[32,-23,-7,-5,-1],[31,-3],[30,-56,-39,-28,-12,-11],[29,-17,-16,-3,-2,-1],[28,-38,-9],[27,-1,0],[26,-7,-6,-5,-4],[25,-28,-12],[24,-16,-9],[23,-15,-1],[22,-20,-8,-7,-6,-5],[20,-5],[18,-20,-9,-1],[17,-1],[16,-5],[15,-5],[14,-9,-4,-3,-2],[13,-23],[12,-36,0],[11,-3],[9,0],[8,0],[6,-5]];
const p32Light=[[53,-71,-67,-62,-47],[52,-70,-66,-63,-54,-43],[50,-68,-66,-63,-60,-43],[49,-72,-67,-66,-63,-58],[48,-71,-65,-64,-62,-47,-38],[47,-69,-65,-62,-57,-36],[46,-72,-68,-64,-60,-50],[45,-70,-67,-61,-50,-44,-33],[44,-68,-65,-63,-56,-46,-38,-27],[43,-72,-69,-62,-52,-42,-22],[42,-71,-66,-61,-53,-49,-41,-36],[41,-74,-70,-65,-60,-54,-46,-28],[40,-73,-71,-67,-63,-58,-50,-40,-26,-11],[39,-72,-66,-62,-55,-49,-38,-24,-8],[38,-70,-65,-59,-51,-45,-35,-23,-15],[37,-73,-68,-63,-57,-47,-37,-26,-6],[36,-71,-66,-60,-53,-43,-31,-19,-9],[35,-69,-64,-58,-50,-39,-28,-14,-4],[34,-72,-67,-61,-55,-46,-36,-26,-7],[33,-71,-65,-60,-52,-42,-28,-18,-10],[32,-68,-64,-56,-48,-39,-26,-13,-5],[31,-73,-70,-62,-54,-45,-33,-22,-3],[30,-71,-66,-59,-50,-41,-29,-15],[29,-70,-65,-57,-47,-37,-24,-8],[28,-68,-63,-53,-45,-36,-20,-12],[27,-66,-60,-51,-40,-30,-16,-3],[26,-68,-64,-55,-48,-35,-22,-9],[25,-66,-61,-52,-42,-27,-14,-6],[24,-64,-58,-49,-38,-25,-11],[23,-62,-55,-45,-33,-18,-4],[22,-59,-54,-46,-39,-28,-13],[21,-62,-52,-44,-35,-24,-8],[20,-60,-51,-47,-37,-19,-11],[19,-58,-50,-41,-30,-16,-6],[18,-56,-49,-43,-33,-22,-3],[17,-53,-47,-39,-28,-14,-8],[16,-50,-45,-36,-25,-12],[15,-52,-42,-33,-20,-6],[14,-46,-40,-30,-17,-10],[13,-44,-37,-27,-13,-4],[12,-42,-35,-24,-15],[11,-38,-31,-21,-8],[10,-40,-33,-26,-11],[9,-37,-28,-18,-5],[8,-34,-25,-15],[7,-30,-23,-10],[6,-27,-19],[5,-29,-22,-12],[4,-24,-14],[3,-20,-13,-6]];
const p32Odd=[[52,1,-4.5],[50,1,-4.5],[48,1,-1.6],[47,1,-1.6],[45,1,-1],[43,1,-5.5],[41,1,6],[24,1,0.7],[23,1,-2.5],[21,1,-0.9],[19,1,-3.5],[17,1,6],[24,-74,-2.4],[24,-73,-3.5],[24,-72,-6.4],[23,-73,-2.4],[23,-72,-2.4],[22,-66,0.7],[21,-67,-0.9],[20,-67,-0.9],[19,-67,-5],[18,-65,-3.5],[17,-64,3.6],[16,-62,-1],[15,-61,-5],[14,-59,-2.4],[13,-58,-3.3],[13,-55,-1.5],[13,-54,0.7],[13,-53,-5.5],[12,-54,-3.3],[12,-49,-6.4],[11,-47,-5],[10,-45,-3],[10,-51,-1.5],[9,-48,0.7],[9,-47,-3.3],[8,-47,-1.7],[9,-43,-3.5],[6,-43,-1.6],[4,-39,-2.4],[5,-33,-1],[5,-32,-1.7],[4,-30,-2.4],[2,-33,-1],[2,-30,-5],[1,-27,-1.7]];

/* row 3, column 3 */
const p33Left=[[1,null],[27,-27]];
const p33Right=[[4,-23],[1,-21],[1,-20],[1,-18],[1,-17],[1,-15],[1,-13],[1,-13],[1,-11],[1,-10],[1,-9],[1,-8],[5,-5],[1,-4],[2,-3],[3,-2],[2,0]];
const p33LeftTeeth=[2,4,6,7,9,11,13,15,17,19,21,23,25,26,27];
const p33Dark=[[26,-28,-2],[25,-28]];
const p33Light=[[3,-26],[4,-24],[6,-25],[8,-26,-24],[9,-25],[11,-25,-18],[12,-22],[14,-26,-20],[15,-25,-23],[16,-24],[17,-24,-13],[18,-25],[21,-24],[23,-24,-10],[26,-22]];
const p33Odd=[[25,0,-3],[23,-1,-3.5],[21,-2,6.5],[20,-2,-0.9],[18,-3,-1.6],[17,-5,2.5],[17,-4,0.7],[12,-7,-3.8],[8,-15,0.7],[8,-11,6],[6,-14,-2.9],[4,-15,-1],[1,-20,3.2]];

/* row 3, column 4 */
const p34Left=[[22,-70],[29,-71]];
const p34Right=[[1,-61],[1,-50],[1,-46],[1,-42],[1,-40],[1,-37],[1,-34],[1,-31],[1,-29],[1,-27],[1,-26],[1,-23],[1,-21],[1,-17],[1,-16],[1,-14],[1,-13],[1,-11],[1,-9],[1,-8],[1,-7],[1,-6],[1,-4],[1,-1],[1,0],[1,1],[1,2],[24,2]];
const p34Teeth=[28,30,32,34,36,38,40,42,44,46,48,50,49,47];
const p34Dark=[[50,-67,-55,-49,-44,-31,-20,-13,-7,-1],[49,-62,-50,-44,-37,-31,-26,-22,-15,-14,-8,-3],[48,-57,-45,-32,-5,-3],[47,-70,-63,-52,-39,-28,-22,-16,-5],[46,-47,-41,-30,-24,-18,-12,-6,0],[45,-62,-61,-60,-55,-49,-48,-47,-42,-37,-25,-19,-13,-7,-1],[44,-62,-57,-56,-55,-43],[43,-63,-62,-50,-45,-44,-43,-33,-20],[42,-70,-39,-29,-28,-22,-10,-4,-3],[41,-70,-59,-47,-46,-45,-42,-35,-34,-33,-23,-18,-17,-8,0,1,2],[40,-67,-48,-42,-30,-18,-7,-6,-5],[39,-49,-14,-13],[38,-44,-37,-31,-20,-15,-8],[37,-29],[36,-70,-46,-45,-44,-39,-28,-22,-21,-10,-4],[35,-65,-40,-39,-29,-17,-6,-5,-4],[33,-62,-45,-38,-26,-14,-2],[32,-57,-45,-32,-9,2],[31,-52],[30,-35,-31,-28,-17,-11,-6,-5,0,1],[29,-60,-48,-36,-35,-31,-12,-1,0],[28,-30,-8,-7],[27,-26,-15,-8,-2],[26,-21,-4],[25,-39,-28,-17,-9,-4],[24,-47,-23,-11],[22,-20,-9,-8,-7],[21,-46],[18,-18],[16,-25],[15,-46,-23],[11,-70],[9,-39]];
const p34Light=[[1,-58,-54],[2,-68,-60,-55],[3,-65,-60,-54],[4,-69,-62],[5,-63,-58],[6,-67,-62,-41],[7,-68,-58],[8,-67,-61,-42],[9,-66,-53],[10,-68,-58],[11,-65,-59],[12,-63,-50],[13,-68,-49],[14,-47,-36],[17,-68,-36],[18,-67],[19,-40],[22,-60,-11],[24,-60],[30,-50],[35,-15]];
const p34Odd=[[24,1,6.5],[24,2,2.2],[23,0,6.5],[23,-2,-2.4],[26,2,-2.4],[20,-3,-1.6],[19,-6,5.5],[19,-5,-1],[17,-8,-2.5],[15,-11,-3.5],[15,-10,0.7],[13,-15,-2.6],[12,-21,-3.5],[11,-19,-0.9],[10,-23,6.5],[10,-22,-1],[10,-21,-2.4],[8,-30,-1.7],[7,-32,-3.8],[7,-33,-2],[6,-30,-2.4],[6,-29,-3.5],[5,-30,-3],[3,-35,-1.6],[0,-47,-1.6],[1,-51,-1.7],[2,-47,0.7],[47,-72,0.7],[46,-72,-1.5],[44,-72,-3.5],[42,-72,-1.5],[40,-72,-3.5],[38,-72,-5.5],[36,-72,-1.5],[34,-72,-4],[31,-72,-0.5],[29,-72,2.5],[27,-72,-3.8],[25,-72,-4.7],[23,-72,2.5],[22,-72,-0.5],[20,-72,-3.6],[18,-72,-2.4],[16,-72,-3],[14,-72,-3],[12,-72,-2.4],[11,-72,2],[9,-72,-1.5],[47,-71,-1.6],[46,-71,-1.6],[44,-71,-2.7],[42,-71,-3],[40,-71,-2.4],[38,-71,-2.4],[36,-71,-3.5],[34,-71,-2.4],[33,-71,-5],[32,-71,-5],[31,-71,-5.2],[30,-71,-5],[29,-71,-2.2],[27,-71,-2.4],[26,-71,-3.6],[25,-71,-5.3],[24,-71,-2.2],[23,-71,-3.6],[22,-71,-6.2]];

const colEdges=[[40.5,503.3],[503.3,920],[968.2,1431.1],[1431.1,1847.7]];
const rowEdges=[[36.8,339],[339,641.7],[641.7,943.5]];
const panels=[
 {r:0,c:0,left:p11Left,right:p11Right,teeth:p11Teeth,dark:p11Dark,light:p11Light,odd:p11Odd},
 {r:0,c:1,left:p12Left,right:p12Right,leftTeeth:p12Teeth,dark:p12Dark,light:p12Light,odd:p12Odd},
 {r:0,c:2,left:p13Left,right:p13Right,leftTeeth:p13Teeth,dark:p13Dark,light:p13Light,odd:p13Odd},
 {r:0,c:3,left:p14Left,right:p14Right,teeth:p14Teeth,dark:p14Dark,light:p14Light,odd:p14Odd},
 {r:1,c:0,left:p21Left,right:p21Right,teeth:p21Teeth,dark:p21Dark,light:p21Light,odd:p21Odd},
 {r:1,c:1,left:p22Left,right:p22Right,teeth:p22Teeth,leftTeeth:p22LeftTeeth,dark:p22Dark,light:p22Light,odd:p22Odd},
 {r:1,c:2,left:p23Left,right:p23Right,leftTeeth:p23LeftTeeth,dark:p23Dark,light:p23Light,odd:p23Odd},
 {r:1,c:3,left:p24Left,right:p24Right,teeth:p24Teeth,dark:p24Dark,light:p24Light,odd:p24Odd},
 {r:2,c:0,left:p31Left,right:p31Right,teeth:p31Teeth,dark:p31Dark,light:p31Light,odd:p31Odd},
 {r:2,c:1,left:p32Left,right:p32Right,leftTeeth:p32LeftTeeth,dark:p32Dark,light:p32Light,odd:p32Odd},
 {r:2,c:2,left:p33Left,right:p33Right,leftTeeth:p33LeftTeeth,dark:p33Dark,light:p33Light,odd:p33Odd},
 {r:2,c:3,left:p34Left,right:p34Right,teeth:p34Teeth,dark:p34Dark,light:p34Light,odd:p34Odd}
];

const color=d3.scaleThreshold().domain(levelEdges.slice(1,-1)).range(palette);
const svg=d3.select("#c").append("svg").attr("width",1935).attr("height",970);
const defs=svg.append("defs");
defs.append("filter").attr("id","soft").attr("x",0).attr("y",0).attr("width",1).attr("height",1)
  .attr("filterUnits","objectBoundingBox").append("feGaussianBlur").attr("stdDeviation",0.38);
defs.append("clipPath").attr("id","leftCanvas").append("rect").attr("x",0).attr("y",0).attr("width",934).attr("height",970);
const root=svg.append("g").attr("filter","url(#soft)");
root.append("rect").attr("width",1935).attr("height",970).attr("fill","#fff");
const bg="#f2f2f2";
[[8,5,926,32],[6,36,928,934],[936,5,989,965]].forEach(b=>root.append("rect").attr("x",b[0]).attr("y",b[1]).attr("width",b[2]).attr("height",b[3]).attr("fill",bg));
root.append("rect").attr("x",1925).attr("y",5).attr("width",1.5).attr("height",965).attr("fill","#c4c4c4");
root.append("rect").attr("x",1926.5).attr("y",5).attr("width",8.5).attr("height",965).attr("fill","#f6f6f6");

function expand(runs){const out=[];runs.forEach(([n,v])=>{for(let k=0;k<n;k++)out.push(v)});return out}
function bins(entry){const o=[];entry.slice(1).forEach(e=>{if(Array.isArray(e)){for(let q=e[0];q<=e[1];q++)o.push(q)}else o.push(e)});return o}
function cellsOf(p){
  const L=expand(p.left),R=expand(p.right),m=new Map();
  const lt=new Set(p.leftTeeth||[]),rt=new Set(p.teeth||[]);
  L.forEach((l,j)=>{ if(l===null||R[j]===undefined) return;
    const a=l-(lt.has(j)?1:0), b=R[j]+(rt.has(j)?1:0);
    for(let i=a;i<b;i++) m.set(j+"|"+i,-0.35);
  });
  p.light.forEach(e=>bins(e).forEach(i=>{const k=e[0]+"|"+i;if(m.has(k))m.set(k,-1.05)}));
  p.dark.forEach(e=>bins(e).forEach(i=>{const k=e[0]+"|"+i;if(m.has(k))m.set(k,0.7)}));
  p.odd.forEach(([j,i,v])=>m.set(j+"|"+i,v));
  return Array.from(m,([k,v])=>{const [j,i]=k.split("|").map(Number);return {j,i,v}});
}
const lineDark="#3a3a3a",lineGray="#777";
const cellLayer=root.append("g").attr("shape-rendering","crispEdges");
const axisLayer=root.append("g");
panels.forEach(p=>{
  const [x0,x1]=colEdges[p.c],[y0,y1]=rowEdges[p.r];
  const x=d3.scaleLinear([-210,10],[x0,x1]);
  const y=d3.scaleLinear([-10,150],[y1,y0]);
  cellLayer.append("g").selectAll("rect").data(cellsOf(p)).join("rect")
    .attr("x",d=>x(d.i*2.5)).attr("width",d=>x((d.i+1)*2.5)-x(d.i*2.5))
    .attr("y",d=>y((d.j+1)*2)).attr("height",d=>y(d.j*2)-y((d.j+1)*2))
    .attr("fill",d=>color(d.v));
  const g=axisLayer.append("g").attr("class","pad");
  const narrow=p.c%2===1;
  const yBig=narrow?13.3:15, ySmall=narrow?6.7:7.7;
  const ax=(sel,axis)=>{sel.call(axis);sel.select(".domain").remove();return sel};
  ax(g.append("g").attr("transform",`translate(0,${y1})`),d3.axisBottom(x).tickValues(xMinor).tickSize(-5).tickFormat(""));
  const bx=ax(g.append("g").attr("transform",`translate(0,${y1})`),
    d3.axisBottom(x).tickValues(xMajor).tickSize(-9.5).tickPadding(3).tickFormat(p.r===2?d=>d:""));
  bx.selectAll("text").attr("font-family","'Liberation Sans',sans-serif").attr("font-weight","bold").attr("font-size",12.6).attr("fill","#111");
  ax(g.append("g").attr("transform",`translate(${x0},0)`),d3.axisLeft(y).tickValues(yMinor).tickSize(-ySmall).tickFormat(""));
  const by=ax(g.append("g").attr("transform",`translate(${x0},0)`),
    d3.axisLeft(y).tickValues(yMajor).tickSize(-yBig).tickPadding(3).tickFormat(d=>d));
  by.selectAll("text").attr("font-family","'Liberation Sans',sans-serif").attr("font-weight","bold").attr("font-size",11.8).attr("fill","#111");
  g.selectAll("line").attr("stroke",lineDark).attr("stroke-width",1.1);
  g.append("line").attr("x1",x0).attr("x2",x0).attr("y1",y0).attr("y2",y1).attr("stroke",lineDark).attr("stroke-width",1.5);
  if(p.c%2===1) g.append("line").attr("x1",x1).attr("x2",x1).attr("y1",y0).attr("y2",y1).attr("stroke",lineDark).attr("stroke-width",1.5);
  g.append("line").attr("x1",x0).attr("x2",x1).attr("y1",y1).attr("y2",y1).attr("stroke",p.r===2?lineDark:lineGray).attr("stroke-width",p.r===2?1.5:2);
  if(p.r===0) g.append("line").attr("x1",x0).attr("x2",x1).attr("y1",y0).attr("y2",y0).attr("stroke","#555").attr("stroke-width",1.5);
  const t=g.append("text").attr("x",x0-0.5).attr("y",y0-2.5).attr("font-family","'Liberation Sans',sans-serif").attr("font-size",12).attr("fill","#222");
  t.append("tspan").text("×10");
  t.append("tspan").attr("dy",-4).attr("font-size",7.5).text("3");

  const z=d3.scaleLinear([-7,7],[y1,y0]);
  if(narrow){
    const host=axisLayer.append("g"); if(p.c===1) host.attr("clip-path","url(#leftCanvas)");
    const bx0=x1+1.2, bw=21;
    host.append("g").attr("shape-rendering","crispEdges").selectAll("rect").data(palette).join("rect")
      .attr("x",bx0).attr("width",bw).attr("y",(d,i)=>z(levelEdges[i+1])).attr("height",(d,i)=>z(levelEdges[i])-z(levelEdges[i+1])).attr("fill",d=>d);
    const za=host.append("g").attr("transform",`translate(${bx0+bw},0)`).call(d3.axisRight(z).tickValues(zTicks).tickSize(-14).tickPadding(2.5).tickFormat(p.c===3?d=>d:""));
    za.select(".domain").attr("stroke","#8a8a99").attr("stroke-width",1);
    za.selectAll("line").attr("stroke","#111").attr("stroke-width",1);
    za.selectAll("text").attr("font-family","'Liberation Sans',sans-serif").attr("font-weight","bold").attr("font-size",11.8).attr("fill","#111");
  } else {
    const za=axisLayer.append("g").attr("transform",`translate(${x1},0)`).call(d3.axisRight(z).tickValues(zTicks).tickSize(-13).tickFormat(""));
    za.select(".domain").remove();
    za.selectAll("line").attr("stroke","#222").attr("stroke-width",1);
  }
});
</script></body></html>
